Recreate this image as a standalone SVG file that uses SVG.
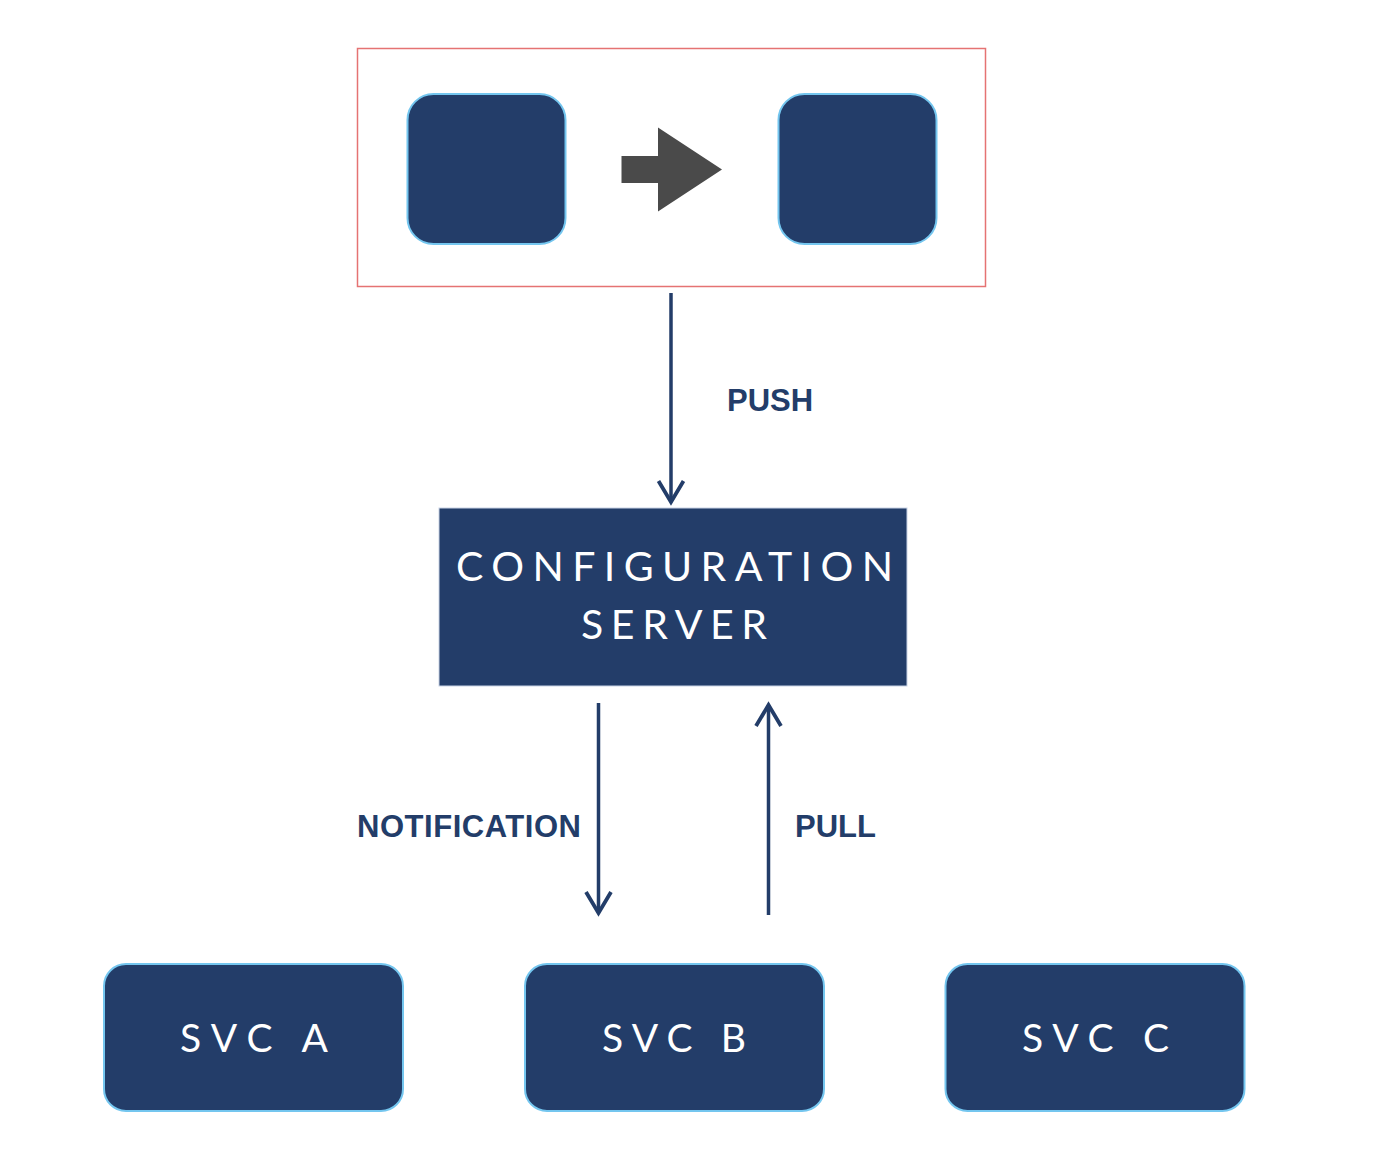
<svg xmlns="http://www.w3.org/2000/svg" width="1400" height="1154" viewBox="0 0 1400 1154">
<style>
.navy{fill:#233d69}
.tile{fill:#233d69;stroke:#74c6ef;stroke-width:2}
.wt{fill:#ffffff;font-family:Lato,"Open Sans","Liberation Sans",sans-serif;font-weight:400}
.lbl{fill:#233d69;font-family:"Liberation Sans",Arial,sans-serif;font-weight:700;font-size:31px}
.conn{stroke:#233d69;stroke-width:3.5;fill:none}
</style>
<defs>
<marker id="chev" markerUnits="userSpaceOnUse" viewBox="-28 -16 32 32" markerWidth="32" markerHeight="32" refX="0" refY="0" orient="auto">
<path d="M-21,-12.5 L0,0 L-21,12.5" fill="none" stroke="#233d69" stroke-width="3.8" stroke-linejoin="miter"/>
</marker>
</defs>
<rect width="1400" height="1154" fill="#ffffff"/>
<g id="deploy">
<rect x="357.5" y="48.5" width="628" height="238" fill="none" stroke="#e57373" stroke-width="1.5"/>
<rect id="tile-left" class="tile" x="407.5" y="94" width="158" height="150" rx="26"/>
<rect id="tile-right" class="tile" x="778.5" y="94" width="158" height="150" rx="26"/>
<path id="move-arrow" d="M621.5,156 H658 V127.5 L722,169.5 L658,211.5 V183 H621.5 Z" fill="#4a4a4a"/>
</g>
<g id="config-server">
<rect x="439" y="508" width="468" height="178" class="navy" stroke="#c9d4e6" stroke-width="1"/>
<text class="wt" x="456" y="581" font-size="41" textLength="437" lengthAdjust="spacing">CONFIGURATION</text>
<text class="wt" x="581" y="639" font-size="41" textLength="186" lengthAdjust="spacing">SERVER</text>
</g>
<g id="svc-a">
<rect class="tile" x="104" y="964" width="299" height="147" rx="22"/>
<text class="wt" x="180" y="1052" font-size="39" textLength="148" lengthAdjust="spacing">SVC A</text>
</g>
<g id="svc-b">
<rect class="tile" x="525" y="964" width="299" height="147" rx="22"/>
<text class="wt" x="602" y="1052" font-size="39" textLength="144" lengthAdjust="spacing">SVC B</text>
</g>
<g id="svc-c">
<rect class="tile" x="945.5" y="964" width="299" height="147" rx="22"/>
<text class="wt" x="1022" y="1052" font-size="39" textLength="147" lengthAdjust="spacing">SVC C</text>
</g>
<g id="connectors">
<line class="conn" x1="671" y1="293" x2="671" y2="502" marker-end="url(#chev)"/>
<text class="lbl" x="727" y="411">PUSH</text>
<line class="conn" x1="598.5" y1="703" x2="598.5" y2="913" marker-end="url(#chev)"/>
<text class="lbl" x="357" y="837" textLength="224" lengthAdjust="spacing">NOTIFICATION</text>
<line class="conn" x1="768.5" y1="915" x2="768.5" y2="705" marker-end="url(#chev)"/>
<text class="lbl" x="795" y="837">PULL</text>
</g>
</svg>
